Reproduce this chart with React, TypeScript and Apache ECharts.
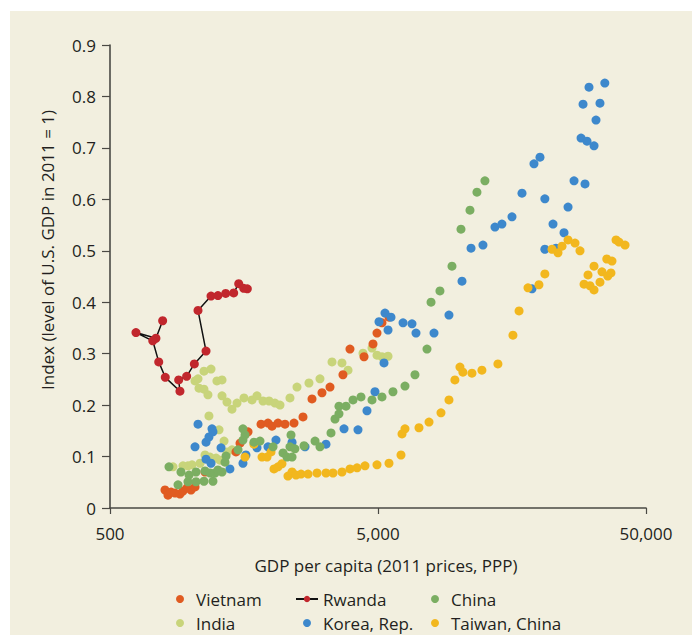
import { useEffect, useRef } from "react";
import * as echarts from "echarts";

const xTicks = [500, 5000, 50000];
const xTickLabels = ["500", "5,000", "50,000"];
const yMin = 0;
const yMax = 0.9;
const yStep = 0.1;

const seriesNames = ["Vietnam", "Rwanda", "China", "India", "Korea, Rep.", "Taiwan, China"];

const vietnam: number[][] = [
  [802, 0.035], [823, 0.025], [845, 0.031], [874, 0.029], [912, 0.027], [936, 0.033], [969, 0.039],
  [1003, 0.035], [1038, 0.041], [1131, 0.07], [1476, 0.109], [1528, 0.126], [1637, 0.148], [1830, 0.163],
  [1943, 0.165], [2011, 0.159], [2118, 0.165], [2249, 0.163], [2430, 0.165], [2625, 0.177], [2836, 0.212],
  [3090, 0.224], [3310, 0.235], [3700, 0.259], [3930, 0.309], [4435, 0.294], [4790, 0.319], [4957, 0.34],
  [5174, 0.36], [5495, 0.371],
];

const rwanda: number[][] = [
  [786, 0.364], [742, 0.33], [625, 0.341], [722, 0.325], [760, 0.284], [804, 0.254], [912, 0.227],
  [902, 0.249], [966, 0.256], [1032, 0.28], [1141, 0.305], [1065, 0.384], [1191, 0.412], [1264, 0.413],
  [1351, 0.417], [1447, 0.418], [1511, 0.436], [1577, 0.427], [1627, 0.426],
];

const china: number[][] = [
  [830, 0.08], [897, 0.045], [920, 0.07], [977, 0.051], [986, 0.064], [1047, 0.07], [1047, 0.051],
  [1121, 0.052], [1131, 0.072], [1181, 0.068], [1211, 0.052], [1233, 0.068], [1264, 0.074], [1309, 0.07],
  [1343, 0.089], [1355, 0.101], [1502, 0.113], [1567, 0.132], [1595, 0.142], [1567, 0.154], [1722, 0.128],
  [1814, 0.13], [2029, 0.119], [2211, 0.107], [2288, 0.099], [2368, 0.142], [2347, 0.119], [2389, 0.099],
  [2449, 0.115], [2648, 0.121], [2911, 0.13], [3037, 0.119], [3339, 0.146], [3456, 0.173], [3576, 0.198],
  [3576, 0.183], [3798, 0.198], [4034, 0.21], [4320, 0.216], [4749, 0.21], [5174, 0.216], [5686, 0.226],
  [6305, 0.237], [6870, 0.259], [7617, 0.309], [7886, 0.4], [8514, 0.422], [9441, 0.47], [10200, 0.542],
  [11020, 0.579], [11700, 0.614], [12530, 0.636],
];

const india: number[][] = [
  [859, 0.08], [936, 0.082], [977, 0.082], [1012, 0.084], [1084, 0.087], [1131, 0.103], [1181, 0.099],
  [1244, 0.097], [1287, 0.093], [1332, 0.13], [1366, 0.109], [1426, 0.113], [1170, 0.179], [1276, 0.152],
  [1121, 0.266], [1191, 0.27], [1038, 0.247], [1065, 0.251], [1074, 0.233], [1121, 0.231], [1160, 0.22],
  [1253, 0.247], [1309, 0.249], [1309, 0.218], [1366, 0.206], [1426, 0.192], [1489, 0.204], [1581, 0.214],
  [1694, 0.21], [1768, 0.218], [1862, 0.208], [1961, 0.208], [2063, 0.204], [2154, 0.2], [2347, 0.214],
  [2493, 0.235], [2763, 0.243], [3037, 0.251], [3368, 0.284], [3669, 0.282], [3865, 0.268], [4395, 0.301],
  [4749, 0.311], [4957, 0.297], [5174, 0.294], [5450, 0.295],
];

const korea: number[][] = [
  [1038, 0.119], [1065, 0.163], [1141, 0.128], [1170, 0.138], [1201, 0.154], [1211, 0.148], [1141, 0.095],
  [1191, 0.087], [1298, 0.117], [1401, 0.076], [1567, 0.087], [1608, 0.103], [1768, 0.117], [1943, 0.119],
  [2081, 0.132], [2389, 0.128], [2671, 0.119], [3198, 0.124], [3734, 0.154], [4210, 0.152], [4549, 0.189],
  [4872, 0.226], [5265, 0.282], [5043, 0.362], [5310, 0.379], [5591, 0.371], [5450, 0.346], [6200, 0.36],
  [6696, 0.358], [6930, 0.34], [8090, 0.34], [9200, 0.375], [10290, 0.441], [11120, 0.505], [12320, 0.511],
  [13660, 0.546], [14500, 0.552], [15810, 0.566], [17230, 0.612], [18780, 0.426], [19100, 0.669],
  [20110, 0.682], [20970, 0.601], [20970, 0.503], [22490, 0.552], [23070, 0.505], [24720, 0.535],
  [25590, 0.585], [26940, 0.636], [28620, 0.719], [29110, 0.785], [29610, 0.63], [30120, 0.713],
  [30640, 0.818], [31990, 0.704], [32540, 0.754], [33670, 0.787], [35100, 0.826],
];

const taiwan: number[][] = [
  [1595, 0.099], [1722, 0.124], [1846, 0.099], [1927, 0.099], [1994, 0.109], [2046, 0.076], [2118, 0.08],
  [2191, 0.086], [2307, 0.062], [2389, 0.07], [2472, 0.064], [2581, 0.066], [2741, 0.066], [2961, 0.068],
  [3198, 0.068], [3397, 0.068], [3669, 0.07], [3930, 0.076], [4176, 0.078], [4471, 0.082], [4957, 0.084],
  [5495, 0.087], [6092, 0.103], [6146, 0.144], [6305, 0.154], [7110, 0.156], [7750, 0.167], [8590, 0.185],
  [9200, 0.21], [9680, 0.249], [10110, 0.274], [10370, 0.264], [11210, 0.262], [12210, 0.268],
  [14010, 0.28], [15940, 0.336], [16800, 0.383], [18140, 0.428], [19930, 0.434], [20970, 0.455],
  [22300, 0.503], [23470, 0.496], [24300, 0.509], [25590, 0.521], [27170, 0.515], [28360, 0.5],
  [29360, 0.435], [30380, 0.453], [30900, 0.432], [31990, 0.47], [31990, 0.424], [33670, 0.439],
  [34250, 0.459], [35700, 0.484], [36000, 0.451], [37000, 0.457], [37330, 0.48], [38650, 0.521],
  [39660, 0.517], [41760, 0.511],
];

const FONT = "'Open Sans', 'Noto Sans', sans-serif";
const TEXT = "#231f20";
const AXIS = "#4a4944";

export default function App() {
  const ref = useRef<HTMLDivElement>(null);
  useEffect(() => {
    const chart = echarts.init(ref.current!, null, { renderer: "svg" });
    const textStyle = { fontFamily: FONT, fontSize: 17, color: TEXT, lineHeight: 20 };
    const scatter = (name: string, data: number[][], color: string) => ({
      name,
      type: "scatter",
      data,
      symbol: "circle",
      symbolSize: 9,
      itemStyle: { color, opacity: 1 },
    });
    const legendBase = {
      orient: "vertical",
      top: 589,
      padding: 0,
      itemWidth: 22,
      itemHeight: 8,
      itemGap: 4,
      textStyle,
    };
    chart.setOption({
      animation: false,
      backgroundColor: "#ffffff",
      textStyle: { fontFamily: FONT },
      grid: { left: 110, right: 46, top: 45, bottom: 127, containLabel: false },
      graphic: [
        {
          type: "rect",
          z: -100,
          silent: true,
          shape: { x: 10, y: 11, width: 682, height: 624 },
          style: { fill: "#f2efdf" },
        },
        {
          type: "text",
          x: 386,
          y: 565,
          style: {
            text: "GDP per capita (2011 prices, PPP)",
            fontFamily: FONT,
            fontSize: 17,
            fill: TEXT,
            align: "center",
            verticalAlign: "middle",
          },
        },
        {
          type: "text",
          x: 47,
          y: 250,
          rotation: Math.PI / 2,
          style: {
            text: "Index (level of U.S. GDP in 2011 = 1)",
            fontFamily: FONT,
            fontSize: 17,
            fill: TEXT,
            align: "center",
            verticalAlign: "middle",
          },
        },
      ],
      xAxis: {
        type: "log",
        logBase: 10,
        min: xTicks[0],
        max: xTicks[xTicks.length - 1],
        axisLine: { show: true, lineStyle: { color: AXIS, width: 1.6 } },
        axisTick: { show: true, length: 6, inside: false, customValues: xTicks, lineStyle: { color: AXIS, width: 1.2 } },
        axisLabel: {
          customValues: xTicks,
          margin: 17,
          fontFamily: FONT,
          fontSize: 17,
          color: TEXT,
          formatter: (v: number) => {
            const i = xTicks.findIndex((t) => Math.abs(t - v) / t < 1e-6);
            return i >= 0 ? xTickLabels[i] : "";
          },
        },
        splitLine: { show: false },
        minorTick: { show: false },
      },
      yAxis: {
        type: "value",
        min: yMin,
        max: yMax,
        interval: yStep,
        axisLine: { show: true, lineStyle: { color: AXIS, width: 1.6 } },
        axisTick: { show: true, length: 8, lineStyle: { color: AXIS, width: 1.2 } },
        axisLabel: {
          margin: 14,
          fontFamily: FONT,
          fontSize: 17,
          color: TEXT,
          formatter: (v: number) => String(Math.round(v * 10) / 10),
        },
        splitLine: { show: false },
      },
      legend: [
        { ...legendBase, left: 176, data: [seriesNames[0], seriesNames[3]] },
        { ...legendBase, left: 295, data: [seriesNames[1], seriesNames[4]] },
        { ...legendBase, left: 431, data: [seriesNames[2], seriesNames[5]] },
      ],
      series: [
        scatter(seriesNames[3], india, "#c8d47a"),
        scatter(seriesNames[0], vietnam, "#e05b21"),
        scatter(seriesNames[4], korea, "#3d88cc"),
        scatter(seriesNames[5], taiwan, "#f2b71e"),
        scatter(seriesNames[2], china, "#7bae62"),
        {
          name: seriesNames[1],
          type: "line",
          data: rwanda,
          symbol: "circle",
          symbolSize: 9,
          showSymbol: true,
          lineStyle: { color: "#111111", width: 1.5 },
          itemStyle: { color: "#c1272d" },
          z: 5,
        },
      ],
    });
    return () => chart.dispose();
  }, []);
  return (
    <div
      ref={ref}
      style={{ position: "absolute", left: 0, top: 0, width: 692, height: 635, background: "#ffffff" }}
    />
  );
}
